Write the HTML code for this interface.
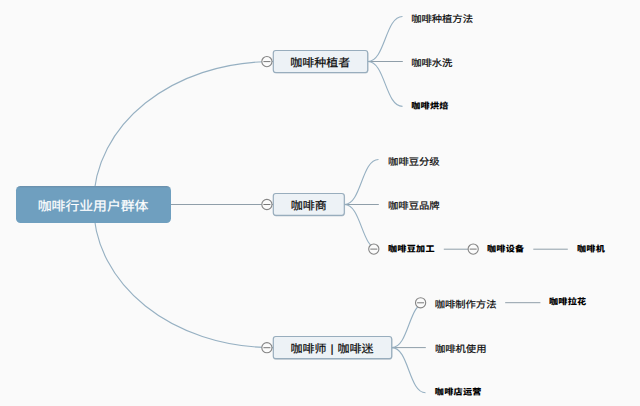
<!DOCTYPE html>
<html lang="zh-CN">
<head>
<meta charset="utf-8">
<title>咖啡行业用户群体</title>
<style>
html,body{margin:0;padding:0;background:#fafafa;}
body{width:640px;height:406px;overflow:hidden;position:relative;font-family:"Liberation Sans","Noto Sans CJK SC",sans-serif;}
svg{position:absolute;left:0;top:0;display:block;}
.ln{fill:none;stroke:#96b0c2;stroke-width:1.12;}
.lh{stroke:#8f9ea9;stroke-width:1;}
.box{fill:#edf2f6;stroke:#98adbd;stroke-width:1.2;}
.tg circle{fill:#fbfbfb;stroke:#858585;stroke-width:1.1;}
.tg line{stroke:#787878;stroke-width:1;}
text{font-family:"Liberation Sans","Noto Sans CJK SC",sans-serif;transform-box:fill-box;transform-origin:50% 50%;transform:rotate(0.05deg) scaleY(0.93);}
.root{font-size:13.85px;fill:#fff;stroke:#fff;stroke-width:0.2px;}
.sub{font-size:12px;fill:#0a0a0a;stroke:#0a0a0a;stroke-width:0.2px;}
.leaf{font-size:10.3px;fill:#0a0a0a;stroke:#0a0a0a;stroke-width:0.22px;}
.bold{font-size:9.1px;letter-spacing:0.3px;font-weight:900;fill:#000;}
</style>
</head>
<body>
<svg width="640" height="406" viewBox="0 0 640 406">
<g id="links">
<path class="ln" d="M93.5 204.5 C93.5 124.6 172 61.5 273 61.5"/>
<path class="ln" d="M93.5 204.5 C93.5 284.4 172 347.6 273 347.6"/>
<path class="ln lh" d="M171 204.5 H273"/>
<path class="ln" d="M368 61.5 C385.2 61.5 385.2 16.5 402.5 16.5"/>
<path class="ln lh" d="M368 61.5 H402.8"/>
<path class="ln" d="M368 61.5 C385.2 61.5 385.2 106.4 402.5 106.4"/>
<path class="ln" d="M344.5 204.5 C361.5 204.5 361.5 159.5 378.5 159.5"/>
<path class="ln lh" d="M344.5 204.5 H378.8"/>
<path class="ln" d="M344.5 204.5 C361.5 204.5 361.5 249.2 378.5 249.2"/>
<path class="ln lh" d="M443.8 249.2 H478"/>
<path class="ln lh" d="M533.3 249.2 H567.8"/>
<path class="ln" d="M392 347.6 C408.8 347.6 408.8 302.6 425.5 302.6"/>
<path class="ln lh" d="M392 347.6 H425.8"/>
<path class="ln" d="M392 347.6 C408.8 347.6 408.8 392.7 425.5 392.7"/>
<path class="ln lh" d="M505.2 302.7 H540.4"/>
</g>
<g id="nodes">
<defs><linearGradient id="rg" x1="0" y1="0" x2="0" y2="1"><stop offset="0" stop-color="#6a8eaa"/><stop offset="0.06" stop-color="#6f9fbf"/><stop offset="1" stop-color="#6f9fbf"/></linearGradient></defs>
<rect x="16" y="186" width="155" height="37" rx="4.5" ry="4.5" fill="url(#rg)"/>
<rect x="273.6" y="51.2" width="94.4" height="22" rx="2.5" fill="none" stroke="#7f94a6" stroke-opacity="0.35" stroke-width="1"/>
<rect class="box" x="273.3" y="50.5" width="94.4" height="22" rx="2.5"/>
<rect x="273.6" y="194.2" width="71" height="21.8" rx="2.5" fill="none" stroke="#7f94a6" stroke-opacity="0.35" stroke-width="1"/>
<rect class="box" x="273.3" y="193.5" width="71" height="21.8" rx="2.5"/>
<rect x="273.6" y="337.2" width="118.4" height="22.2" rx="2.5" fill="none" stroke="#7f94a6" stroke-opacity="0.35" stroke-width="1"/>
<rect class="box" x="273.3" y="336.5" width="118.4" height="22.2" rx="2.5"/>
</g>
<g id="toggles">
<g class="tg"><circle cx="266.9" cy="61.6" r="5.1"/><line x1="263.4" y1="61.6" x2="270.4" y2="61.6"/></g>
<g class="tg"><circle cx="266.9" cy="204.5" r="5.1"/><line x1="263.4" y1="204.5" x2="270.4" y2="204.5"/></g>
<g class="tg"><circle cx="266.9" cy="347.7" r="5.1"/><line x1="263.4" y1="347.7" x2="270.4" y2="347.7"/></g>
<g class="tg"><circle cx="373.8" cy="249.1" r="5.1"/><line x1="370.3" y1="249.1" x2="377.3" y2="249.1"/></g>
<g class="tg"><circle cx="473.2" cy="249.1" r="5.1"/><line x1="469.7" y1="249.1" x2="476.7" y2="249.1"/></g>
<g class="tg"><circle cx="420.6" cy="302.8" r="5.1"/><line x1="417.1" y1="302.8" x2="424.1" y2="302.8"/></g>
</g>
<g id="labels">
<text class="root" x="93.1" y="210.9" text-anchor="middle">咖啡行业用户群体</text>
<text class="sub" x="320.3" y="66.8" text-anchor="middle">咖啡种植者</text>
<text class="sub" x="308.7" y="209.8" text-anchor="middle">咖啡商</text>
<text class="sub" x="332" y="352.8" text-anchor="middle" xml:space="preserve" style="word-spacing:0.6px">咖啡师 | 咖啡迷</text>
<text class="leaf" x="411.2" y="22.5">咖啡种植方法</text>
<text class="leaf" x="411.2" y="66.5">咖啡水洗</text>
<text class="bold" x="411.2" y="108.9">咖啡烘焙</text>
<text class="leaf" x="388.1" y="165.3">咖啡豆分级</text>
<text class="leaf" x="388.1" y="209.3">咖啡豆品牌</text>
<text class="bold" x="388" y="252.1">咖啡豆加工</text>
<text class="bold" x="487" y="252.1">咖啡设备</text>
<text class="bold" x="577" y="252.1">咖啡机</text>
<text class="leaf" x="434.7" y="308">咖啡制作方法</text>
<text class="bold" x="549" y="304.8">咖啡拉花</text>
<text class="leaf" x="435" y="352.5">咖啡机使用</text>
<text class="bold" x="434.8" y="395">咖啡店运营</text>
</g>
</svg>
</body>
</html>
